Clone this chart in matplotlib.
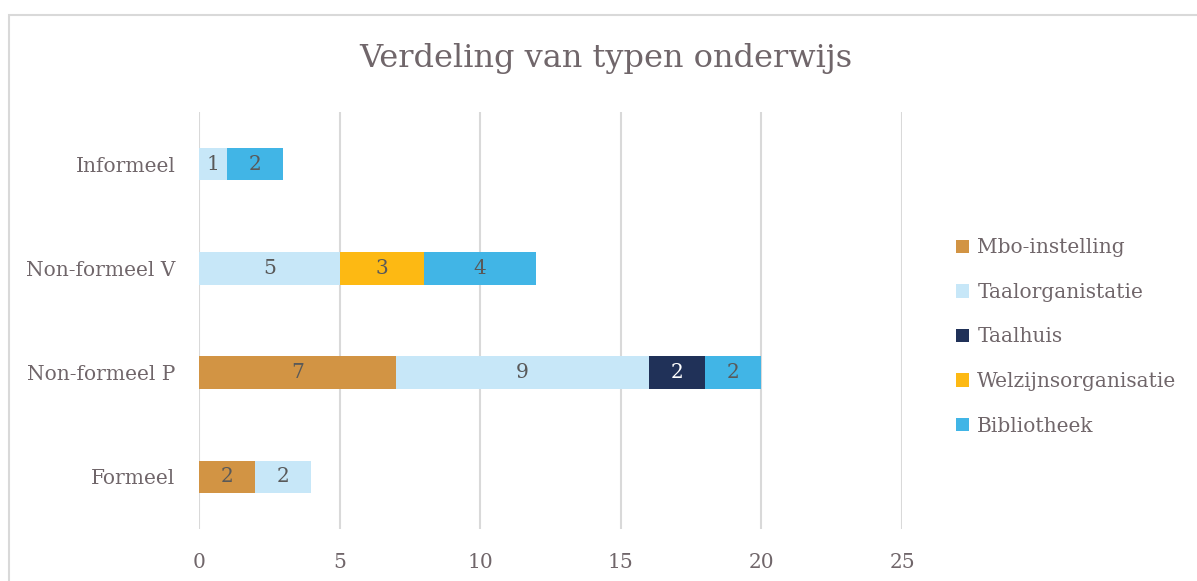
import matplotlib.pyplot as plt
import numpy as np
from matplotlib.patches import Rectangle

plt.rcParams['font.family'] = ['DejaVu Serif']

categories = ["Formeel", "Non-formeel P", "Non-formeel V", "Informeel"]
series = ["Mbo-instelling", "Taalorganistatie", "Taalhuis",
          "Welzijnsorganisatie", "Bibliotheek"]
mbo = [2, 7, 0, 0]
taalorg = [2, 9, 5, 1]
taalhuis = [0, 2, 0, 0]
welzijn = [0, 0, 3, 0]
bieb = [0, 2, 4, 2]
colors = ["#D29444", "#C7E7F8", "#203158", "#FDB913", "#41B5E6"]
label_colors = ["#595959", "#595959", "white", "#595959", "#595959"]

TEXT = "#70666A"
W, H = 1197, 581

fig = plt.figure(figsize=(W / 100, H / 100), dpi=100)
ax = fig.add_axes([199 / W, 1 - 529 / H, (902 - 199) / W, (529 - 112) / H])

# chart border (figure is cropped on right and bottom)
fig.patches.append(Rectangle((9 / W, -0.1), 1.2, 1 - 15 / H + 0.1,
                             transform=fig.transFigure, fill=False,
                             edgecolor="#D9D9D9", linewidth=1.5))

y = np.arange(len(categories))
left = np.zeros(len(categories))
for name, vals, col, lc in zip(series, [mbo, taalorg, taalhuis, welzijn, bieb],
                               colors, label_colors):
    vals = np.array(vals, dtype=float)
    bars = ax.barh(y, vals, left=left, height=0.31, color=col, label=name,
                   zorder=3)
    for b, v in zip(bars, vals):
        if v > 0:
            ax.text(b.get_x() + b.get_width() / 2, b.get_y() + b.get_height() / 2,
                    f"{int(v)}", ha="center", va="center", fontsize=14.5,
                    color=lc, zorder=4)
    left += vals

ax.set_xlim(0, 25)
ax.set_ylim(-0.5, 3.5)
ax.set_xticks(np.arange(0, 26, 5))
ax.set_yticks(y)
ax.set_yticklabels(categories)
ax.grid(axis="x", color="#D9D9D9", linewidth=1.5, zorder=0)
ax.tick_params(axis="x", length=0, pad=17, labelsize=14.5, labelcolor=TEXT)
ax.tick_params(axis="y", length=0, pad=17, labelsize=14.5, labelcolor=TEXT)
for s in ax.spines.values():
    s.set_visible(False)

fig.text(606 / W, 1 - 58 / H, "Verdeling van typen onderwijs", ha="center",
         va="center", fontsize=23, color=TEXT)

ax.legend(loc="center left", bbox_to_anchor=(938 / W, 1 - 337 / H),
          bbox_transform=fig.transFigure, frameon=False, fontsize=14.5,
          labelcolor=TEXT, handlelength=0.65, handleheight=0.65,
          handletextpad=0.4, labelspacing=1.27)

fig.savefig("out.png", dpi=100)
